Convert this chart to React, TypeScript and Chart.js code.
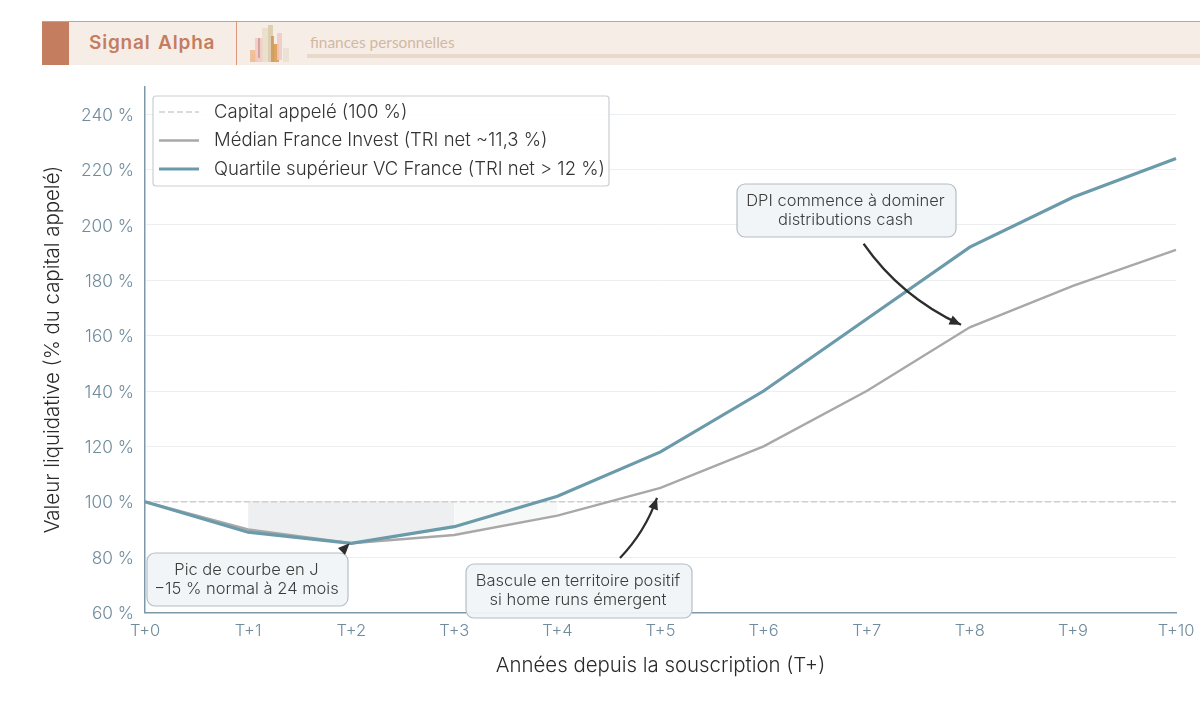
import { useEffect, useRef } from 'react'
import { Chart, registerables, type Plugin } from 'chart.js'

Chart.register(...registerables)

const years = ['T+0', 'T+1', 'T+2', 'T+3', 'T+4', 'T+5', 'T+6', 'T+7', 'T+8', 'T+9', 'T+10']
const capital = [100, 100, 100, 100, 100, 100, 100, 100, 100, 100, 100]
const median = [100, 90, 85, 88, 95, 105, 120, 140, 163, 178, 191]
const topQuartile = [100, 89, 85, 91, 102, 118, 140, 166, 192, 210, 224]
const darkZone = [null, 90, 85, 91, null, null, null, null, null, null, null]
const lightZone = [null, null, null, 88, 95, null, null, null, null, null, null]
const yTicks = [60, 80, 100, 120, 140, 160, 180, 200, 220, 240]

const legendRows = ['Capital appelé (100 %)', 'Médian France Invest (TRI net ~11,3 %)', 'Quartile supérieur VC France (TRI net > 12 %)']
const callouts = [
  { lines: ['Pic de courbe en J', '−15 % normal à 24 mois'], box: [147, 553, 201, 53], from: [1.985, 85], to: [1.985, 85], ctrl: null },
  { lines: ['Bascule en territoire positif', 'si home runs émergent'], box: [466, 564, 226, 54], from: [4.607, 79.7], to: [4.966, 101.4], ctrl: [4.85, 89.1] },
  { lines: ['DPI commence à dominer', 'distributions cash'], box: [737, 184, 219, 53], from: [6.97, 193.2], to: [7.915, 163.9], ctrl: [7.33, 174] },
]

const FONT = 'Inter, sans-serif'

function roundedBox(ctx: CanvasRenderingContext2D, x: number, y: number, w: number, h: number, r: number) {
  ctx.beginPath()
  ctx.roundRect(x, y, w, h, r)
}

function arrowHead(ctx: CanvasRenderingContext2D, tx: number, ty: number, fx: number, fy: number) {
  const a = Math.atan2(ty - fy, tx - fx)
  const len = 11.5
  const half = 5
  ctx.beginPath()
  ctx.moveTo(tx, ty)
  ctx.lineTo(tx - len * Math.cos(a) + half * Math.sin(a), ty - len * Math.sin(a) - half * Math.cos(a))
  ctx.lineTo(tx - len * Math.cos(a) - half * Math.sin(a), ty - len * Math.sin(a) + half * Math.cos(a))
  ctx.closePath()
  ctx.fill()
}

const overlay: Plugin<'line'> = {
  id: 'overlay',
  afterDraw(chart) {
    const { ctx, scales } = chart
    const px = (p: number[]) => [scales.x.getPixelForValue(p[0]), scales.y.getPixelForValue(p[1])]

    // legend frame
    ctx.save()
    ctx.fillStyle = 'rgba(255,255,255,0.85)'
    ctx.strokeStyle = '#c9cfd4'
    ctx.lineWidth = 1.2
    roundedBox(ctx, 153, 96, 456, 90, 3)
    ctx.fill()
    ctx.stroke()
    const swatches = [
      { color: '#cfcfcf', width: 1.3, dash: [6, 3] },
      { color: '#a8a8a8', width: 2.4, dash: [] },
      { color: '#6b9aaa', width: 3.2, dash: [] },
    ]
    legendRows.forEach((label, i) => {
      const y = 112 + i * 28.5
      ctx.beginPath()
      ctx.strokeStyle = swatches[i].color
      ctx.lineWidth = swatches[i].width
      ctx.setLineDash(swatches[i].dash)
      ctx.moveTo(159, y)
      ctx.lineTo(199, y)
      ctx.stroke()
      ctx.setLineDash([])
      ctx.fillStyle = '#333333'
      ctx.font = `300 18.5px ${FONT}`
      ctx.textAlign = 'left'
      ctx.textBaseline = 'middle'
      ctx.fillText(label, 214, y)
    })

    // callouts
    callouts.forEach((c) => {
      const [x, y, w, h] = c.box
      ctx.fillStyle = 'rgba(240,244,247,0.95)'
      ctx.strokeStyle = '#b4bec6'
      ctx.lineWidth = 1.2
      roundedBox(ctx, x, y, w, h, 8)
      ctx.fill()
      ctx.stroke()
      ctx.fillStyle = '#3c3c3c'
      ctx.font = `300 16.5px ${FONT}`
      ctx.textAlign = 'center'
      ctx.textBaseline = 'middle'
      c.lines.forEach((t, i) => ctx.fillText(t, x + w / 2 - 1, y + h / 2 - 9.5 + i * 19))

      ctx.strokeStyle = '#2d2d2d'
      ctx.fillStyle = '#2d2d2d'
      ctx.lineWidth = 2.2
      const to = px(c.to)
      if (c.ctrl) {
        const from = px(c.from)
        const ctrl = px(c.ctrl)
        ctx.beginPath()
        ctx.moveTo(from[0], from[1])
        ctx.quadraticCurveTo(ctrl[0], ctrl[1], to[0], to[1])
        ctx.stroke()
        arrowHead(ctx, to[0], to[1], ctrl[0], ctrl[1])
      } else {
        arrowHead(ctx, to[0], to[1], to[0] - 7, to[1] + 7)
      }
    })
    ctx.restore()
  },
}

function Header() {
  const bars = [
    [252, 54, 6, 8, '#e4dccb'],
    [250, 50, 6, 12, '#eeb98f'],
    [255, 38, 8, 24, '#f0c8c2'],
    [258, 38, 2, 20, '#d59a98'],
    [262, 28, 9, 34, '#e9dcc8'],
    [268, 25, 5, 37, '#dccaa8'],
    [271, 36, 3, 26, '#c99a5c'],
    [273, 44, 6, 18, '#dd9548'],
    [277, 33, 5, 27, '#f0c8c2'],
    [283, 48, 6, 14, '#e8e1d1'],
  ] as const
  return (
    <div style={{ position: 'absolute', left: 42, top: 21, width: 1158, height: 44, background: '#f7ede7', borderTop: '1px solid #d99a7c', boxSizing: 'border-box' }}>
      <div style={{ position: 'absolute', left: 0, top: 0, width: 27, height: 43, background: '#c47d5e' }} />
      <div style={{ position: 'absolute', left: 47, top: 9, font: `600 19px ${FONT}`, letterSpacing: 0.8, wordSpacing: 2, color: '#c47d5e' }}>Signal Alpha</div>
      <div style={{ position: 'absolute', left: 194, top: 0, width: 1, height: 43, background: '#d99a7c' }} />
      {bars.map(([x, y, w, h, c], i) => (
        <div key={i} style={{ position: 'absolute', left: x - 42, top: y - 22, width: w, height: h, background: c, opacity: 0.85 }} />
      ))}
      <div style={{ position: 'absolute', left: 268, top: 11, font: '400 15.4px Lato, sans-serif', color: '#d0b9a2' }}>finances personnelles</div>
      <div style={{ position: 'absolute', left: 265, top: 32, right: 0, height: 4, background: '#e8d9cb' }} />
    </div>
  )
}

export default function App() {
  const ref = useRef<HTMLCanvasElement>(null)

  useEffect(() => {
    document.body.style.margin = '0'
    if (!ref.current) return
    const chart = new Chart(ref.current, {
      type: 'line',
      data: {
        labels: years,
        datasets: [
          // lowest order is painted last, so the top quartile stays on top
          { label: 'zone1', order: 4, data: darkZone, borderWidth: 0, pointRadius: 0, backgroundColor: 'rgba(170,175,180,0.2)', fill: { value: 100 } },
          { label: 'zone2', order: 3, data: lightZone, borderWidth: 0, pointRadius: 0, backgroundColor: 'rgba(170,175,180,0.09)', fill: { value: 100 } },
          { label: legendRows[0], order: 2, data: capital, borderColor: '#cfcfcf', borderWidth: 1.3, borderDash: [6, 3], pointRadius: 0, fill: false },
          { label: legendRows[1], order: 1, data: median, borderColor: '#a8a8a8', borderWidth: 2.4, pointRadius: 0, tension: 0, fill: false },
          { label: legendRows[2], order: 0, data: topQuartile, borderColor: '#6b9aaa', borderWidth: 3.2, pointRadius: 0, tension: 0, fill: false },
        ],
      },
      options: {
        responsive: false,
        animation: false,
        layout: { padding: { left: 0, top: 86.5, right: 24, bottom: 0 } },
        plugins: { legend: { display: false }, tooltip: { enabled: false } },
        scales: {
          x: {
            type: 'category',
            offset: false,
            grid: { display: false },
            border: { color: '#7d98a8', width: 1.5 },
            afterFit: (axis) => {
              axis.height = 108.5
            },
            ticks: { color: '#6f8b9c', font: { family: FONT, size: 16.5, weight: 300 }, maxRotation: 0, padding: 1, autoSkip: false },
            title: { display: true, text: 'Années depuis la souscription (T+)', color: '#2a2a2a', font: { family: FONT, size: 20.4, weight: 300 }, padding: { top: 9, bottom: 43 } },
          },
          y: {
            min: 60,
            max: 250,
            afterBuildTicks: (axis) => {
              axis.ticks = yTicks.map((value) => ({ value }))
            },
            afterFit: (axis) => {
              axis.width = 145
            },
            grid: { color: '#eceeef', lineWidth: 1, drawTicks: false },
            border: { color: '#7d98a8', width: 1.5 },
            ticks: { color: '#6f8b9c', font: { family: FONT, size: 17.3, weight: 300 }, padding: 11, labelOffset: 1.5, callback: (v) => `${v} %` },
            title: { display: true, text: 'Valeur liquidative (% du capital appelé)', color: '#2a2a2a', font: { family: FONT, size: 20.4, weight: 300 }, padding: { top: 41, bottom: 0 } },
          },
        },
      },
      plugins: [overlay],
    })
    return () => chart.destroy()
  }, [])

  return (
    <div style={{ position: 'relative', width: 1200, height: 721, background: '#ffffff' }}>
      <canvas ref={ref} width={1200} height={721} style={{ position: 'absolute', left: 0, top: 0 }} />
      <Header />
    </div>
  )
}
